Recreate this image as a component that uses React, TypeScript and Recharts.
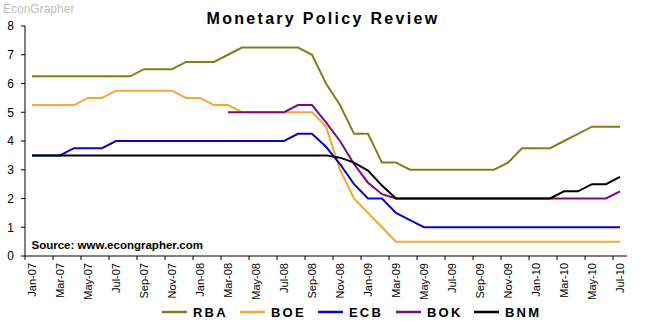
import React from 'react';
import { LineChart, Line, XAxis, YAxis } from 'recharts';

const months = [
  'Jan-07', 'Feb-07', 'Mar-07', 'Apr-07', 'May-07', 'Jun-07', 'Jul-07', 'Aug-07', 'Sep-07', 'Oct-07', 'Nov-07', 'Dec-07',
  'Jan-08', 'Feb-08', 'Mar-08', 'Apr-08', 'May-08', 'Jun-08', 'Jul-08', 'Aug-08', 'Sep-08', 'Oct-08', 'Nov-08', 'Dec-08',
  'Jan-09', 'Feb-09', 'Mar-09', 'Apr-09', 'May-09', 'Jun-09', 'Jul-09', 'Aug-09', 'Sep-09', 'Oct-09', 'Nov-09', 'Dec-09',
  'Jan-10', 'Feb-10', 'Mar-10', 'Apr-10', 'May-10', 'Jun-10', 'Jul-10',
];

const rba = [
  6.25, 6.25, 6.25, 6.25, 6.25, 6.25, 6.25, 6.25, 6.5, 6.5, 6.5, 6.75,
  6.75, 6.75, 7.0, 7.25, 7.25, 7.25, 7.25, 7.25, 7.0, 6.0, 5.25, 4.25,
  4.25, 3.25, 3.25, 3.0, 3.0, 3.0, 3.0, 3.0, 3.0, 3.0, 3.25, 3.75,
  3.75, 3.75, 4.0, 4.25, 4.5, 4.5, 4.5,
];

const boe = [
  5.25, 5.25, 5.25, 5.25, 5.5, 5.5, 5.75, 5.75, 5.75, 5.75, 5.75, 5.5,
  5.5, 5.25, 5.25, 5.0, 5.0, 5.0, 5.0, 5.0, 5.0, 4.5, 3.0, 2.0,
  1.5, 1.0, 0.5, 0.5, 0.5, 0.5, 0.5, 0.5, 0.5, 0.5, 0.5, 0.5,
  0.5, 0.5, 0.5, 0.5, 0.5, 0.5, 0.5,
];

const ecb = [
  3.5, 3.5, 3.5, 3.75, 3.75, 3.75, 4.0, 4.0, 4.0, 4.0, 4.0, 4.0,
  4.0, 4.0, 4.0, 4.0, 4.0, 4.0, 4.0, 4.25, 4.25, 3.8, 3.2, 2.5,
  2.0, 2.0, 1.5, 1.25, 1.0, 1.0, 1.0, 1.0, 1.0, 1.0, 1.0, 1.0,
  1.0, 1.0, 1.0, 1.0, 1.0, 1.0, 1.0,
];

const bok = [
  null, null, null, null, null, null, null, null, null, null, null, null,
  null, null, 5.0, 5.0, 5.0, 5.0, 5.0, 5.25, 5.25, 4.65, 4.0, 3.2,
  2.55, 2.15, 2.0, 2.0, 2.0, 2.0, 2.0, 2.0, 2.0, 2.0, 2.0, 2.0,
  2.0, 2.0, 2.0, 2.0, 2.0, 2.0, 2.25,
];

const bnm = [
  3.5, 3.5, 3.5, 3.5, 3.5, 3.5, 3.5, 3.5, 3.5, 3.5, 3.5, 3.5,
  3.5, 3.5, 3.5, 3.5, 3.5, 3.5, 3.5, 3.5, 3.5, 3.5, 3.42, 3.25,
  2.97, 2.45, 2.0, 2.0, 2.0, 2.0, 2.0, 2.0, 2.0, 2.0, 2.0, 2.0,
  2.0, 2.0, 2.25, 2.25, 2.5, 2.5, 2.75,
];

const yTicks = [0, 1, 2, 3, 4, 5, 6, 7, 8];

const series = [
  { key: 'RBA', color: '#80801a' },
  { key: 'BOE', color: '#f5a634' },
  { key: 'ECB', color: '#0808c0' },
  { key: 'BOK', color: '#7e0a7e' },
  { key: 'BNM', color: '#000000' },
];

const data = months.map((m, i) => ({
  month: m,
  RBA: rba[i],
  BOE: boe[i],
  ECB: ecb[i],
  BOK: bok[i],
  BNM: bnm[i],
}));

const W = 656;
const H = 325;
const LEFT = 25;
const RIGHT = 29;
const TOP = 26;
const XAXIS_H = 69;
const PLOT_W = W - LEFT - RIGHT;
const BAND = PLOT_W / months.length;
const FONT = '"Liberation Sans", Arial, sans-serif';

// excel puts the tick marks on the category boundary, label in the middle
const MonthTick = (props: any) => {
  const { x, payload } = props;
  const axisY = H - XAXIS_H;
  return (
    <g>
      <line x1={x - BAND / 2} x2={x - BAND / 2} y1={axisY} y2={axisY + 4} stroke="#000" />
      <text
        x={x}
        y={axisY + 7}
        transform={`rotate(-90, ${x}, ${axisY + 7})`}
        textAnchor="end"
        dy="0.35em"
        fontSize={11}
        fontFamily={FONT}
        fill="#000"
      >
        {payload.value}
      </text>
    </g>
  );
};

const App = () => {
  return (
    <div style={{ position: 'absolute', left: 0, top: 0, width: W, height: H, background: '#fff' }}>
      <LineChart width={W} height={H} data={data} margin={{ top: TOP, right: RIGHT, left: 0, bottom: 0 }}>
        <XAxis
          dataKey="month"
          interval={1}
          height={XAXIS_H}
          padding={{ left: BAND / 2, right: BAND / 2 }}
          axisLine={{ stroke: '#000' }}
          tickLine={false}
          tick={<MonthTick />}
        />
        <YAxis
          width={LEFT}
          domain={[0, 8]}
          ticks={yTicks}
          interval={0}
          axisLine={{ stroke: '#000' }}
          tickLine={{ stroke: '#000' }}
          tickSize={4}
          tickMargin={7}
          tick={{ fontSize: 12, fontFamily: FONT, fill: '#000' }}
        />
        {series.map((s) => (
          <Line
            key={s.key}
            type="linear"
            dataKey={s.key}
            stroke={s.color}
            strokeWidth={2}
            dot={false}
            activeDot={false}
            isAnimationActive={false}
          />
        ))}
      </LineChart>
      <svg width={W} height={H} style={{ position: 'absolute', left: 0, top: 0, pointerEvents: 'none' }}>
        <text x={3} y={13} fontSize={12} fontFamily={FONT} fill="#bdbdbd">EconGrapher</text>
        <text x={323} y={24} textAnchor="middle" fontSize={16} fontWeight="bold" letterSpacing={2.3} fontFamily={FONT} fill="#000">
          Monetary Policy Review
        </text>
        <text x={31.5} y={249} fontSize={11.5} fontWeight="bold" fontFamily={FONT} fill="#000">
          Source: www.econgrapher.com
        </text>
        {series.map((s, i) => {
          const lx = 162 + i * 78;
          return (
            <g key={s.key}>
              <line x1={lx} x2={lx + 25} y1={312} y2={312} stroke={s.color} strokeWidth={2.5} />
              <text x={lx + 31} y={317} fontSize={13} fontWeight="bold" letterSpacing={2.2} fontFamily={FONT} fill="#000">
                {s.key}
              </text>
            </g>
          );
        })}
      </svg>
    </div>
  );
};

export default App;
